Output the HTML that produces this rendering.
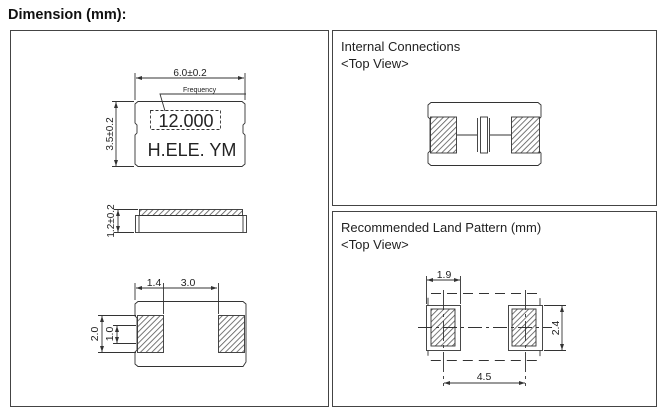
<!DOCTYPE html>
<html><head><meta charset="utf-8"><style>
html,body{margin:0;padding:0;background:#fff;}
svg{display:block;font-family:"Liberation Sans",Arial,sans-serif;}
</style></head><body>
<svg width="670" height="411" viewBox="0 0 670 411" xmlns="http://www.w3.org/2000/svg">
<defs>
<pattern id="h" width="4" height="4" patternUnits="userSpaceOnUse" patternTransform="rotate(45)">
<rect width="4" height="4" fill="#fff"/><line x1="0" y1="0" x2="0" y2="4" stroke="#555" stroke-width="1.6"/>
</pattern>
<marker id="a" markerWidth="6" markerHeight="6" refX="6" refY="3" orient="auto-start-reverse" markerUnits="userSpaceOnUse"><path d="M0,1 L6,3 L0,5z" fill="#333"/></marker>
</defs>
<text x="8" y="19" font-size="14.5" font-weight="bold" fill="#111">Dimension (mm):</text>
<g fill="none" stroke="#444" stroke-width="1">
<rect x="10.5" y="30.5" width="318" height="376"/>
<rect x="332.5" y="30.5" width="324" height="175"/>
<rect x="332.5" y="211.5" width="324" height="195"/>
</g>
<g stroke="#333" fill="none" stroke-width="0.9">
<!-- top view package -->
<path d="M138,101.5 H242 L245,104 V123 L243,125 V133 L245,135 V164 L242,166.5 H138 L135,164 V135 L137,133 V125 L135,123 V104 Z"/>
<line x1="135" y1="100" x2="135" y2="73"/><line x1="245" y1="100" x2="245" y2="73"/>
<line x1="136" y1="78" x2="244" y2="78" marker-start="url(#a)" marker-end="url(#a)"/>
<line x1="134" y1="101.5" x2="112" y2="101.5"/><line x1="134" y1="166.5" x2="112" y2="166.5"/>
<line x1="116" y1="102" x2="116" y2="166" marker-start="url(#a)" marker-end="url(#a)"/>
<rect x="150.5" y="110.5" width="70" height="19" stroke-dasharray="3,2"/>
<polyline points="165,111 160,94 246,94"/>
<!-- side view -->
<rect x="139.5" y="209.5" width="103" height="6" fill="url(#h)"/>
<rect x="135.5" y="215.5" width="111" height="17"/>
<line x1="139" y1="215.5" x2="139" y2="232"/><line x1="243" y1="215.5" x2="243" y2="232"/>
<line x1="138" y1="209.5" x2="114" y2="209.5"/><line x1="134" y1="232.5" x2="114" y2="232.5"/>
<line x1="118" y1="210" x2="118" y2="232" marker-start="url(#a)" marker-end="url(#a)"/>
<!-- bottom view -->
<path d="M138,301.5 H243 L246,304 V362 L243,366.5 H138 L135,364 V352 L137,350 V318 L135,316 V304 Z"/>
<rect x="137.5" y="315.5" width="26" height="37" fill="url(#h)"/>
<rect x="218.5" y="315.5" width="26" height="37" fill="url(#h)"/>
<line x1="135" y1="300" x2="135" y2="283"/><line x1="163.5" y1="314" x2="163.5" y2="283"/><line x1="218.5" y1="314" x2="218.5" y2="283"/>
<line x1="136" y1="288" x2="217" y2="288" marker-start="url(#a)" marker-end="url(#a)"/>
<line x1="136" y1="315.5" x2="98" y2="315.5"/><line x1="136" y1="352.5" x2="98" y2="352.5"/>
<line x1="102" y1="316" x2="102" y2="352" marker-start="url(#a)" marker-end="url(#a)"/>
<line x1="136" y1="325.5" x2="113" y2="325.5"/><line x1="136" y1="343.5" x2="113" y2="343.5"/>
<line x1="117" y1="326" x2="117" y2="343" marker-start="url(#a)" marker-end="url(#a)"/>
<!-- internal connections -->
<path d="M431,102.5 H538 L541,105 V117 L539,119 V151 L541,153 V163 L538,165.5 H431 L428,163 V153 L430,151 V119 L428,117 V105 Z"/>
<rect x="430.5" y="117" width="26" height="36" fill="url(#h)"/>
<rect x="511.5" y="117" width="28" height="36" fill="url(#h)"/>
<line x1="457" y1="135" x2="477" y2="135"/><line x1="490" y1="135" x2="511" y2="135"/>
<line x1="477.5" y1="118" x2="477.5" y2="152"/><line x1="489.5" y1="118" x2="489.5" y2="152"/>
<rect x="480.5" y="117" width="7" height="36"/>
<!-- land pattern -->
<path d="M431,293.5 H537 L540,296 V358 L537,360.5 H431 L428,358 V296 Z" stroke-dasharray="10,6"/>
<rect x="426.5" y="305.5" width="34" height="45" fill="#fff"/>
<rect x="508.5" y="305.5" width="34" height="45" fill="#fff"/>
<rect x="431" y="309" width="24" height="37" fill="url(#h)"/>
<rect x="512" y="309" width="24" height="37" fill="url(#h)"/>
<line x1="418" y1="327.5" x2="552" y2="327.5" stroke-dasharray="14,4,3,4"/>
<line x1="443.5" y1="290" x2="443.5" y2="386" stroke-dasharray="20,4,3,4"/>
<line x1="525.5" y1="290" x2="525.5" y2="386" stroke-dasharray="20,4,3,4"/>
<line x1="426.5" y1="304" x2="426.5" y2="276"/><line x1="460.5" y1="304" x2="460.5" y2="276"/>
<line x1="427" y1="280" x2="460" y2="280" marker-start="url(#a)" marker-end="url(#a)"/>
<line x1="544" y1="305.5" x2="566" y2="305.5"/><line x1="544" y1="350.5" x2="566" y2="350.5"/>
<line x1="562" y1="306" x2="562" y2="350" marker-start="url(#a)" marker-end="url(#a)"/>
<line x1="444" y1="383" x2="525" y2="383" marker-start="url(#a)" marker-end="url(#a)"/>
</g>
<g fill="#222">
<text x="190" y="76" font-size="10" text-anchor="middle">6.0±0.2</text>
<text x="183" y="92" font-size="7">Frequency</text>
<text x="186" y="127" font-size="18" text-anchor="middle">12.000</text>
<text x="192" y="156" font-size="18" text-anchor="middle">H.ELE. YM</text>
<text transform="translate(113,134) rotate(-90)" font-size="10" text-anchor="middle">3.5±0.2</text>
<text transform="translate(114,221) rotate(-90)" font-size="10" text-anchor="middle">1.2±0.2</text>
<text x="154" y="286" font-size="10.5" text-anchor="middle">1.4</text>
<text x="188" y="286" font-size="10.5" text-anchor="middle">3.0</text>
<text transform="translate(98,334) rotate(-90)" font-size="10.5" text-anchor="middle">2.0</text>
<text transform="translate(113,334) rotate(-90)" font-size="10.5" text-anchor="middle">1.0</text>
<text x="341" y="51" font-size="13">Internal Connections</text>
<text x="341" y="68" font-size="13">&lt;Top View&gt;</text>
<text x="341" y="232" font-size="13">Recommended Land Pattern (mm)</text>
<text x="341" y="249" font-size="13">&lt;Top View&gt;</text>
<text x="444" y="278" font-size="10.5" text-anchor="middle">1.9</text>
<text transform="translate(559,328) rotate(-90)" font-size="10.5" text-anchor="middle">2.4</text>
<text x="484" y="380" font-size="10.5" text-anchor="middle">4.5</text>
</g>
</svg>
</body></html>
